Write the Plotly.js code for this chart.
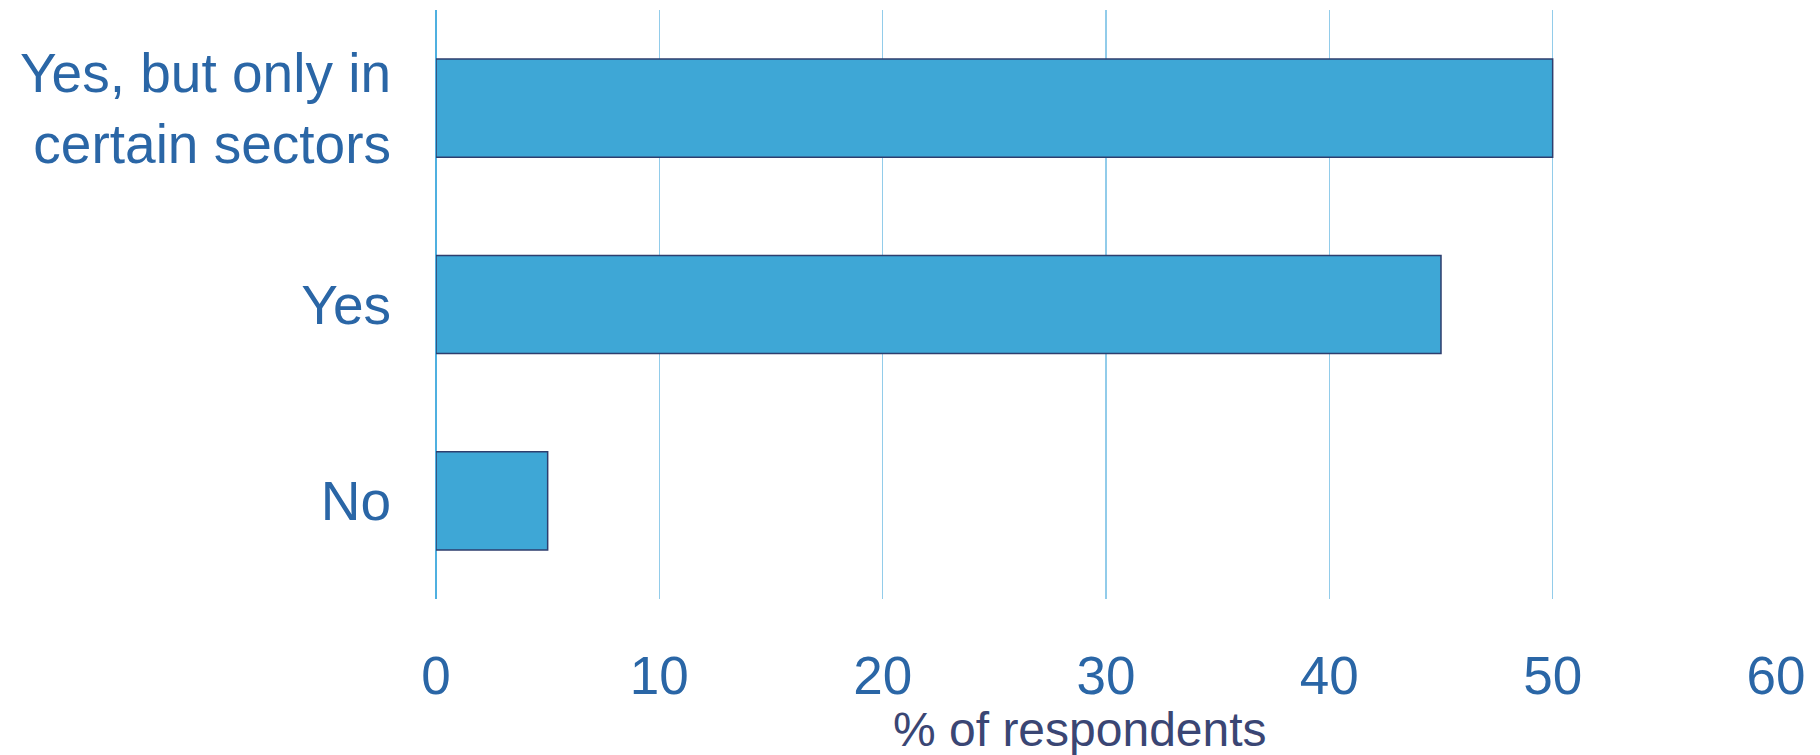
<!DOCTYPE html>
<html>
<head>
<meta charset="utf-8">
<script src="https://cdn.plot.ly/plotly-3.0.1.min.js"></script>
<style>html,body{margin:0;padding:0;background:#fff;}#chart{width:1820px;height:755px;}</style>
</head>
<body>
<div id="chart"></div>
<script>
const categories = ["No", "Yes", "Yes, but only in<br>certain sectors"];
const values = [5, 45, 50];
const xTickVals = [0, 10, 20, 30, 40, 50, 60];
const xTitle = "% of respondents";

const trace = {
  type: 'bar',
  orientation: 'h',
  y: categories,
  x: values,
  width: 0.5,
  marker: {color: '#3EA7D6', line: {color: '#2E3E6E', width: 1.5}},
  hoverinfo: 'x+y'
};

const layout = {
  width: 1820, height: 755,
  margin: {l: 436, r: 44, t: 10, b: 156},
  paper_bgcolor: '#ffffff', plot_bgcolor: '#ffffff',
  showlegend: false,
  font: {family: 'Liberation Sans, Arial, sans-serif'},
  xaxis: {
    range: [0, 60],
    tickvals: xTickVals,
    showgrid: true, gridcolor: '#92CCEA', gridwidth: 1.5,
    zeroline: true, zerolinecolor: '#4FB0E0', zerolinewidth: 1.5,
    showline: false,
    ticks: 'outside', ticklen: 30, tickcolor: 'rgba(0,0,0,0)',
    tickfont: {size: 53, color: '#2A66A6', family: 'Liberation Sans, Arial, sans-serif'},
    fixedrange: true
  },
  yaxis: {
    range: [-0.5, 2.5],
    showgrid: false, zeroline: false, showline: false,
    ticks: 'outside', ticklen: 33, tickcolor: 'rgba(0,0,0,0)',
    tickfont: {size: 55, color: '#2A66A6', family: 'Liberation Sans, Arial, sans-serif'},
    fixedrange: true
  },
  annotations: [{
    text: xTitle, xref: 'paper', yref: 'paper', x: 0.4806, y: -0.222,
    xanchor: 'center', yanchor: 'middle', showarrow: false,
    font: {size: 48, color: '#3A4674', family: 'Liberation Sans, Arial, sans-serif'}
  }]
};

Plotly.newPlot('chart', [trace], layout, {displayModeBar: false, staticPlot: true});
</script>
</body>
</html>
